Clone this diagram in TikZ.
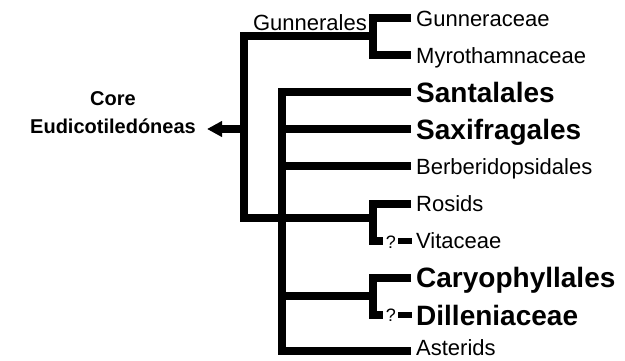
\documentclass[tikz,border=0pt]{standalone}
\usepackage{fontspec}
\setmainfont{Liberation Sans}
\usetikzlibrary{arrows.meta}
\begin{document}
\begin{tikzpicture}[x=1pt,y=-1pt,
  branch/.style={line width=8pt,line join=miter,line cap=butt},
  thinbar/.style={line width=6pt,line cap=butt},
  reg/.style={font=\fontsize{22}{26}\selectfont,inner sep=0pt,anchor=base west},
  big/.style={font=\bfseries\fontsize{28}{32}\selectfont,inner sep=0pt,anchor=base west},
  qm/.style={font=\fontsize{18}{20}\selectfont,inner sep=0pt},
  rootlab/.style={font=\bfseries\fontsize{20}{24}\selectfont,inner sep=0pt}]
\useasboundingbox (0,0) rectangle (625,360);
% row heights
\def\rA{18}\def\rB{55}\def\rC{92}\def\rD{129}\def\rE{166}
\def\rF{203.5}\def\rG{240.5}\def\rH{277.5}\def\rI{315}\def\rJ{351}
% labels
\node[reg] (gun) at (416,\rA+8) {Gunneraceae};
\node[reg] (myr) at (416,\rB+8) {Myrothamnaceae};
\node[big] (san) at (416,\rC+10) {Santalales};
\node[big] (sax) at (416,\rD+10) {Saxifragales};
\node[reg] (ber) at (416,\rE+8) {Berberidopsidales};
\node[reg] (ros) at (416,\rF+8) {Rosids};
\node[reg] (vit) at (416,\rG+8) {Vitaceae};
\node[big] (car) at (416,\rH+10) {Caryophyllales};
\node[big] (dil) at (416,\rI+10) {Dilleniaceae};
\node[reg] (ast) at (416,355.5) {Asterids};
\node[reg,anchor=base east] (gunl) at (367,30) {Gunnerales};
\node[rootlab,anchor=base east] (eud) at (196,133) {Eudicotiledóneas};
\node[rootlab,anchor=base] (core) at ([yshift=28pt]eud.base) {Core};
\node[qm] (q1) at (391,\rG+1.5) {?};
\node[qm] (q2) at (391,\rI+0.5) {?};
% tips
\coordinate (tgun) at (411,\rA);
\coordinate (tmyr) at (411,\rB);
\coordinate (tsan) at (411,\rC);
\coordinate (tsax) at (411,\rD);
\coordinate (tber) at (411,\rE);
\coordinate (tros) at (411,\rF);
\coordinate (tast) at (411,\rJ);
\coordinate (tcar) at (411,\rH);
% junctions
\coordinate (gj) at (373,36);
\coordinate (rj) at (373,218);
\coordinate (cj) at (373,296);
\coordinate (mtop) at (244,36);
\coordinate (mbot) at (244,218);
\coordinate (root) at (244,129);
\coordinate (tip) at (207,129);
\coordinate (itop) at (282,\rC);
\coordinate (ibot) at (282,\rJ);
% Gunnerales clade
\draw[branch] (tgun) -- (373,\rA) -- (373,\rB) -- (tmyr);
\draw[branch] (gj) -- (mtop) -- (mbot) -- (rj);
% Rosids / Vitaceae
\draw[branch] (tros) -- (373,\rF) -- (373,\rG) -- (383,\rG);
\draw[thinbar] (398,\rG) -- (412,\rG);
% inner polytomy
\draw[branch] (tsan) -- (itop) -- (ibot) -- (tast);
\draw[branch] (282,\rD) -- (tsax);
\draw[branch] (282,\rE) -- (tber);
\draw[branch] (282,296) -- (cj);
% Caryophyllales / Dilleniaceae
\draw[branch] (tcar) -- (373,\rH) -- (373,\rI) -- (383,\rI);
\draw[thinbar] (398,\rI) -- (412,\rI);
% root arrow
\draw[line width=8pt,-{Triangle[length=15pt,width=15pt]}] (root) -- (tip);
\end{tikzpicture}
\end{document}
